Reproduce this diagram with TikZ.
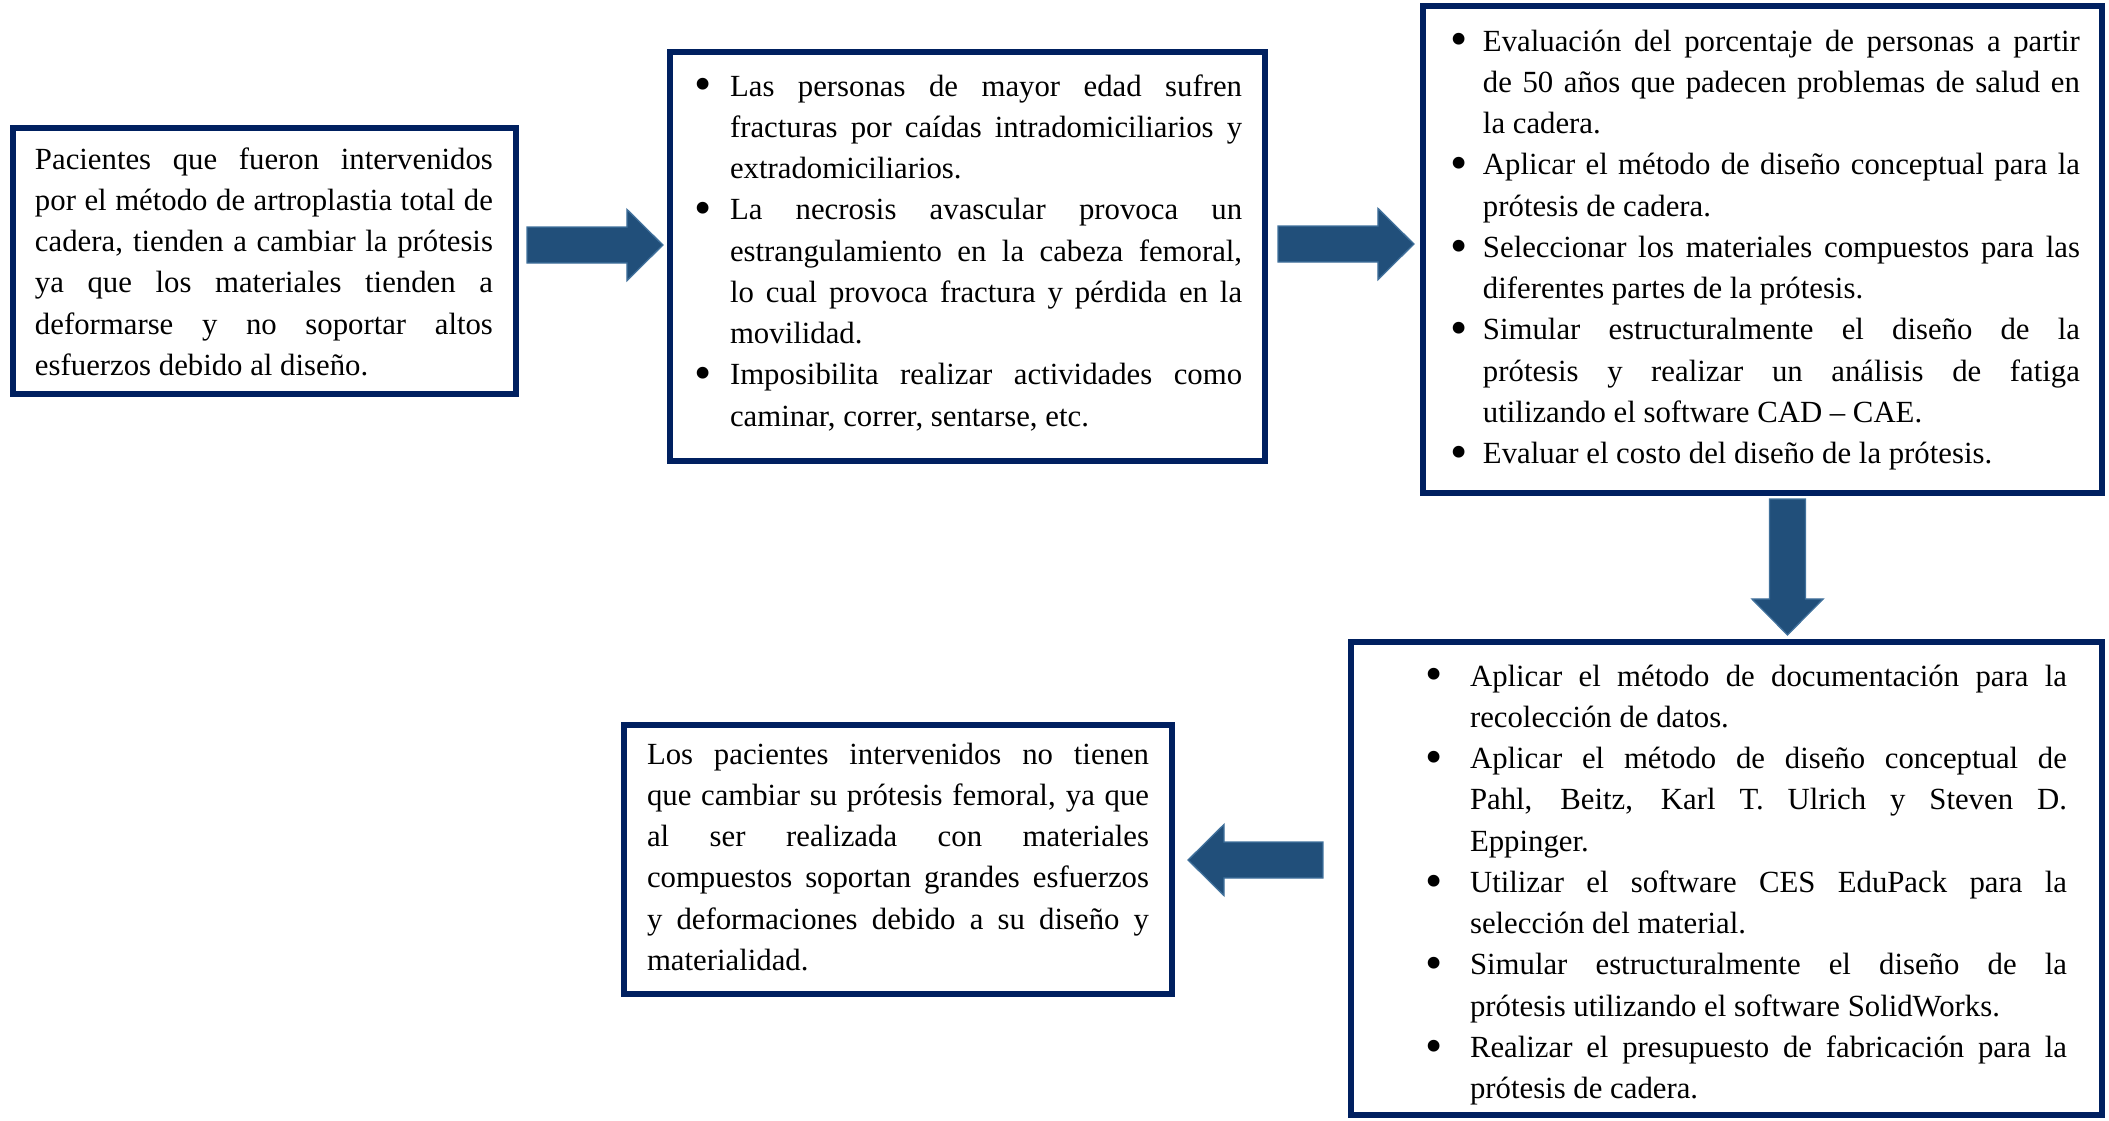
\documentclass[tikz,border=0pt]{standalone}
\usepackage{fontspec}
\setmainfont{Liberation Serif}
\usetikzlibrary{calc}

\definecolor{boxline}{RGB}{0,32,96}
\definecolor{arrowfill}{RGB}{33,79,122}
\definecolor{arrowedge}{RGB}{65,113,156}

% line macros: justified / last line, plain or bulleted
\newlength\twd
\newlength\bwd
\newcommand\bul{\hspace*{-1.4pt}\raisebox{-0.16em}{\scalebox{1.6}{\textbullet}}}
\newcommand\plJ[1]{\makebox[\twd][s]{#1}\par}
\newcommand\plL[1]{\makebox[\twd][l]{#1}\par}
\newcommand\itJ[1]{\makebox[\bwd][l]{\bul}\makebox[\twd][s]{#1}\par}
\newcommand\itL[1]{\makebox[\bwd][l]{\bul}\makebox[\twd][l]{#1}\par}
\newcommand\coJ[1]{\hspace*{\bwd}\makebox[\twd][s]{#1}\par}
\newcommand\coL[1]{\hspace*{\bwd}\makebox[\twd][l]{#1}\par}
\newcommand\textblock[3]{%
  \parbox[t]{\dimexpr#1+#2\relax}{\setlength\bwd{#1}\setlength\twd{#2}%
    \fontsize{12pt}{16.1pt}\selectfont #3}}

% block arrow from tail #1 to tip #2
\newcommand\blockarrow[2]{%
  \coordinate (bhb) at ($(#2)!14.04pt!(#1)$);
  \filldraw[blockarr] ($(#1)!7.02pt!90:(#2)$) -- ($(bhb)!7.02pt!-90:(#1)$)
    -- ($(bhb)!13.9pt!-90:(#1)$) -- (#2) -- ($(bhb)!13.9pt!90:(#1)$)
    -- ($(bhb)!7.02pt!90:(#1)$) -- ($(#1)!7.02pt!-90:(#2)$) -- cycle;
}

\begin{document}
\begin{tikzpicture}[x=0.39pt, y=-0.39pt,
  boxnode/.style={draw=boxline, line width=2.3pt, rectangle, inner sep=0pt, fill=white},
  txt/.style={inner sep=0pt, outer sep=0pt, anchor=base west},
  blockarr/.style={fill=arrowfill, draw=arrowedge, line width=0.5pt, line join=miter}]

\useasboundingbox (0,0) rectangle (2109,1120);

% frames
\node[boxnode, minimum width=196.25pt, minimum height=103.82pt] (b1) at (264.5,261) {};
\node[boxnode, minimum width=232.13pt, minimum height=159.59pt] (b2) at (967.5,256.5) {};
\node[boxnode, minimum width=264.89pt, minimum height=190.01pt] (b3) at (1762.5,249.5) {};
\node[boxnode, minimum width=292.97pt, minimum height=184.55pt] (b4) at (1726.5,878.5) {};
\node[boxnode, minimum width=213.80pt, minimum height=104.99pt] (b5) at (898,859.5) {};

% texts
\node[txt] (t1) at (35,169) {\textblock{0pt}{178.6pt}{%
  \plJ{Pacientes que fueron intervenidos}
  \plJ{por el método de artroplastia total de}
  \plJ{cadera, tienden a cambiar la prótesis}
  \plJ{ya que los materiales tienden a}
  \plJ{deformarse y no soportar altos}
  \plL{esfuerzos debido al diseño.}}};

\node[txt] (t2) at (698,96) {\textblock{12.5pt}{199.7pt}{%
  \itJ{Las personas de mayor edad sufren}
  \coJ{fracturas por caídas intradomiciliarios y}
  \coL{extradomiciliarios.}
  \itJ{La necrosis avascular provoca un}
  \coJ{estrangulamiento en la cabeza femoral,}
  \coJ{lo cual provoca fractura y pérdida en la}
  \coL{movilidad.}
  \itJ{Imposibilita realizar actividades como}
  \coL{caminar, correr, sentarse, etc.}}};

\node[txt] (t3) at (1454,51) {\textblock{11.3pt}{232.8pt}{%
  \itJ{Evaluación del porcentaje de personas a partir}
  \coJ{de 50 años que padecen problemas de salud en}
  \coL{la cadera.}
  \itJ{Aplicar el método de diseño conceptual para la}
  \coL{prótesis de cadera.}
  \itJ{Seleccionar los materiales compuestos para las}
  \coL{diferentes partes de la prótesis.}
  \itJ{Simular estructuralmente el diseño de la}
  \coJ{prótesis y realizar un análisis de fatiga}
  \coL{utilizando el software CAD – CAE.}
  \itL{Evaluar el costo del diseño de la prótesis.}}};

\node[txt] (t4) at (1429,686) {\textblock{16pt}{232.8pt}{%
  \itJ{Aplicar el método de documentación para la}
  \coL{recolección de datos.}
  \itJ{Aplicar el método de diseño conceptual de}
  \coJ{Pahl, Beitz, Karl T. Ulrich y Steven D.}
  \coL{Eppinger.}
  \itJ{Utilizar el software CES EduPack para la}
  \coL{selección del material.}
  \itJ{Simular estructuralmente el diseño de la}
  \coL{prótesis utilizando el software SolidWorks.}
  \itJ{Realizar el presupuesto de fabricación para la}
  \coL{prótesis de cadera.}}};

\node[txt] (t5) at (647,764) {\textblock{0pt}{195.8pt}{%
  \plJ{Los pacientes intervenidos no tienen}
  \plJ{que cambiar su prótesis femoral, ya que}
  \plJ{al ser realizada con materiales}
  \plJ{compuestos soportan grandes esfuerzos}
  \plJ{y deformaciones debido a su diseño y}
  \plL{materialidad.}}};

% arrow end points, taken from the frames
\coordinate (a1s) at ($(b1.east)+(8,-16)$);
\coordinate (a1e) at ($(b2.west |- a1s)+(-4,0)$);
\coordinate (a2s) at ($(b2.east)+(10,-12.5)$);
\coordinate (a2e) at ($(b3.west |- a2s)+(-6,0)$);
\coordinate (a3s) at ($(b3.south)+(25,3)$);
\coordinate (a3e) at ($(b4.north -| a3s)+(0,-4)$);
\coordinate (a4s) at ($(b4.west)+(-25,-18.5)$);
\coordinate (a4e) at ($(b5.east |- a4s)+(13,0)$);

\blockarrow{a1s}{a1e}
\blockarrow{a2s}{a2e}
\blockarrow{a3s}{a3e}
\blockarrow{a4s}{a4e}
\end{tikzpicture}
\end{document}
